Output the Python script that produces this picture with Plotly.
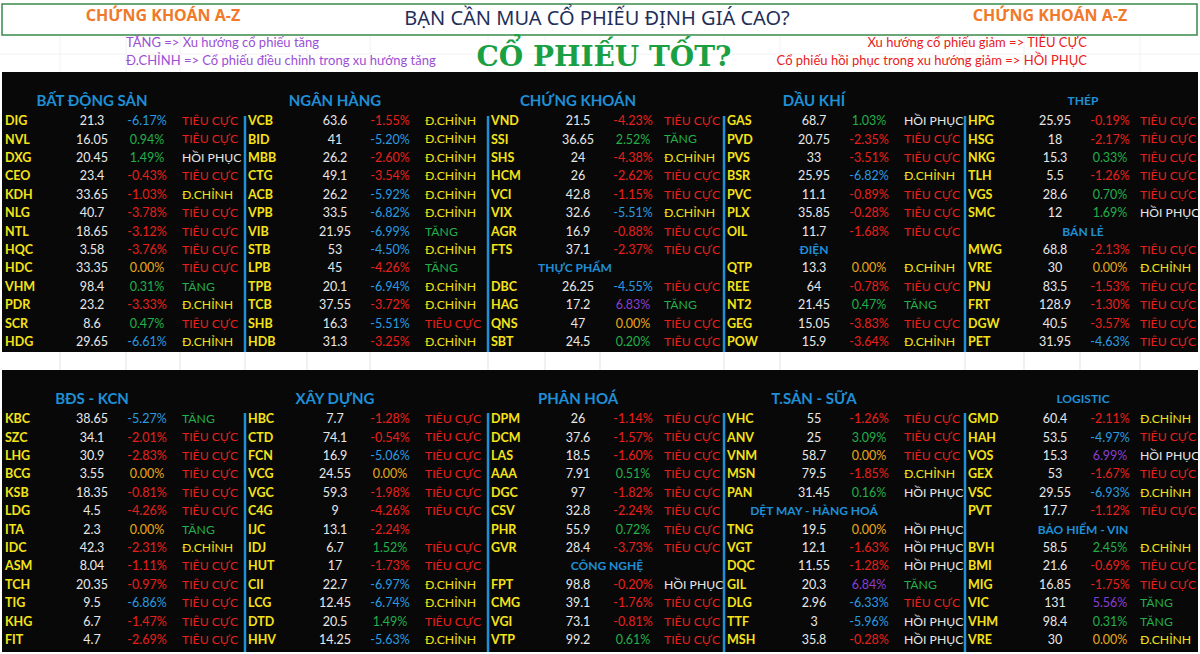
import plotly.graph_objects as go

# status codes: TC = TIÊU CỰC, DC = Đ.CHỈNH, T = TĂNG, HP = HỒI PHỤC
STATUS_TEXT = {"TC": "TIÊU CỰC", "DC": "Đ.CHỈNH", "T": "TĂNG", "HP": "HỒI PHỤC", "": ""}
STATUS_COLOR = {"TC": "#e8201c", "DC": "#f2e21a", "T": "#22b04a", "HP": "#e6e6e6", "": "#000"}

# ---- top block ----
bds_title = "BẤT ĐỘNG SẢN"
bds_tickers = ["DIG", "NVL", "DXG", "CEO", "KDH", "NLG", "NTL", "HQC", "HDC", "VHM", "PDR", "SCR", "HDG"]
bds_prices = [21.3, 16.05, 20.45, 23.4, 33.65, 40.7, 18.65, 3.58, 33.35, 98.4, 23.2, 8.6, 29.65]
bds_pct = [-6.17, 0.94, 1.49, -0.43, -1.03, -3.78, -3.12, -3.76, 0.00, 0.31, -3.33, 0.47, -6.61]
bds_status = ["TC", "TC", "HP", "TC", "DC", "TC", "TC", "TC", "TC", "T", "DC", "TC", "DC"]

nh_title = "NGÂN HÀNG"
nh_tickers = ["VCB", "BID", "MBB", "CTG", "ACB", "VPB", "VIB", "STB", "LPB", "TPB", "TCB", "SHB", "HDB"]
nh_prices = [63.6, 41, 26.2, 49.1, 26.2, 33.5, 21.95, 53, 45, 20.1, 37.55, 16.3, 31.3]
nh_pct = [-1.55, -5.20, -2.60, -3.54, -5.92, -6.82, -6.99, -4.50, -4.26, -6.94, -3.72, -5.51, -3.25]
nh_status = ["DC", "DC", "DC", "DC", "DC", "DC", "T", "DC", "T", "DC", "DC", "TC", "DC"]

ck_title = "CHỨNG KHOÁN"
ck_tickers = ["VND", "SSI", "SHS", "HCM", "VCI", "VIX", "AGR", "FTS", "THỰC PHẨM", "DBC", "HAG", "QNS", "SBT"]
ck_prices = [21.5, 36.65, 24, 26, 42.8, 32.6, 16.9, 37.1, None, 26.25, 17.2, 47, 24.5]
ck_pct = [-4.23, 2.52, -4.38, -2.62, -1.15, -5.51, -0.88, -2.37, None, -4.55, 6.83, 0.00, 0.20]
ck_status = ["TC", "T", "DC", "TC", "TC", "DC", "TC", "TC", "", "TC", "T", "TC", "TC"]

dk_title = "DẦU KHÍ"
dk_tickers = ["GAS", "PVD", "PVS", "BSR", "PVC", "PLX", "OIL", "ĐIỆN", "QTP", "REE", "NT2", "GEG", "POW"]
dk_prices = [68.7, 20.75, 33, 25.95, 11.1, 35.85, 11.7, None, 13.3, 64, 21.45, 15.05, 15.9]
dk_pct = [1.03, -2.35, -3.51, -6.82, -0.89, -0.28, -1.68, None, 0.00, -0.78, 0.47, -3.83, -3.64]
dk_status = ["HP", "TC", "TC", "DC", "TC", "TC", "TC", "", "DC", "TC", "T", "TC", "DC"]

th_title = "THÉP"
th_tickers = ["HPG", "HSG", "NKG", "TLH", "VGS", "SMC", "BÁN LẺ", "MWG", "VRE", "PNJ", "FRT", "DGW", "PET"]
th_prices = [25.95, 18, 15.3, 5.5, 28.6, 12, None, 68.8, 30, 83.5, 128.9, 40.5, 31.95]
th_pct = [-0.19, -2.17, 0.33, -1.26, 0.70, 1.69, None, -2.13, 0.00, -1.53, -1.30, -3.57, -4.63]
th_status = ["TC", "TC", "TC", "TC", "TC", "HP", "", "TC", "DC", "TC", "TC", "TC", "TC"]

# ---- bottom block ----
kcn_title = "BĐS - KCN"
kcn_tickers = ["KBC", "SZC", "LHG", "BCG", "KSB", "LDG", "ITA", "IDC", "ASM", "TCH", "TIG", "KHG", "FIT"]
kcn_prices = [38.65, 34.1, 30.9, 3.55, 18.35, 4.5, 2.3, 42.3, 8.04, 20.35, 9.5, 6.7, 4.7]
kcn_pct = [-5.27, -2.01, -2.83, 0.00, -0.81, -4.26, 0.00, -2.31, -1.11, -0.97, -6.86, -1.47, -2.69]
kcn_status = ["T", "TC", "TC", "TC", "TC", "TC", "T", "DC", "TC", "TC", "TC", "TC", "TC"]

xd_title = "XÂY DỰNG"
xd_tickers = ["HBC", "CTD", "FCN", "VCG", "VGC", "C4G", "IJC", "IDJ", "HUT", "CII", "LCG", "DTD", "HHV"]
xd_prices = [7.7, 74.1, 16.9, 24.55, 59.3, 9, 13.1, 6.7, 17, 22.7, 12.45, 20.5, 14.25]
xd_pct = [-1.28, -0.54, -5.06, 0.00, -1.98, -4.26, -2.24, 1.52, -1.73, -6.97, -6.74, 1.49, -5.63]
xd_status = ["TC", "TC", "TC", "TC", "TC", "TC", "", "TC", "TC", "DC", "DC", "TC", "DC"]

ph_title = "PHÂN HOÁ"
ph_tickers = ["DPM", "DCM", "LAS", "AAA", "DGC", "CSV", "PHR", "GVR", "CÔNG NGHỆ", "FPT", "CMG", "VGI", "VTP"]
ph_prices = [26, 37.6, 18.5, 7.91, 97, 32.8, 55.9, 28.4, None, 98.8, 39.1, 73.1, 99.2]
ph_pct = [-1.14, -1.57, -1.60, 0.51, -1.82, -2.24, 0.72, -3.73, None, -0.20, -1.76, -0.81, 0.61]
ph_status = ["TC", "TC", "TC", "TC", "TC", "TC", "TC", "TC", "", "HP", "TC", "TC", "TC"]

ts_title = "T.SẢN - SỮA"
ts_tickers = ["VHC", "ANV", "VNM", "MSN", "PAN", "DỆT MAY - HÀNG HOÁ", "TNG", "VGT", "DQC", "GIL", "DLG", "TTF", "MSH"]
ts_prices = [55, 25, 58.7, 79.5, 31.45, None, 19.5, 12.1, 11.55, 20.3, 2.96, 3, 35.8]
ts_pct = [-1.26, 3.09, 0.00, -1.85, 0.16, None, 0.00, -1.63, -1.28, 6.84, -6.33, -5.96, -0.28]
ts_status = ["TC", "TC", "TC", "DC", "HP", "", "HP", "HP", "HP", "T", "TC", "HP", "HP"]

lg_title = "LOGISTIC"
lg_tickers = ["GMD", "HAH", "VOS", "GEX", "VSC", "PVT", "BẢO HIỂM - VIN", "BVH", "BMI", "MIG", "VIC", "VHM", "VRE"]
lg_prices = [60.4, 53.5, 15.3, 53, 29.55, 17.7, None, 58.5, 21.6, 16.85, 131, 98.4, 30]
lg_pct = [-2.11, -4.97, 6.99, -1.67, -6.93, -1.12, None, 2.45, -0.69, -1.75, 5.56, 0.31, 0.00]
lg_status = ["DC", "TC", "HP", "TC", "DC", "TC", "", "DC", "TC", "TC", "T", "T", "DC"]

FONT = "Lato"
BLUE = "#1f8fd6"


def pct_color(p):
    if p == 0:
        return "#e8a81c"
    if p >= 5.5:
        return "#8a3fd0"
    if p > 0:
        return "#22b04a"
    if p <= -4.5:
        return "#2a9be0"
    return "#e8201c"


def add_group(fig, x0, y0, title, tickers, prices, pcts, statuses,
              title_dx=90, title_size=15, inline_dx=90, status_dx=180):
    step = 18.42
    ys = [y0 + 20 + i * step for i in range(len(tickers))]
    rows = [i for i, p in enumerate(prices) if p is not None]
    heads = [i for i, p in enumerate(prices) if p is None]
    fnt = dict(family=FONT, size=12.5)
    fig.add_trace(go.Scatter(
        x=[x0 + 3] * len(rows), y=[ys[i] for i in rows], mode="text",
        text=["<b>%s</b>" % tickers[i] for i in rows], textposition="middle right",
        textfont=dict(fnt, color="#f5e31a"), hoverinfo="skip"))
    fig.add_trace(go.Scatter(
        x=[x0 + 90] * len(rows), y=[ys[i] for i in rows], mode="text",
        text=["%g" % prices[i] for i in rows], textposition="middle center",
        textfont=dict(fnt, color="#e8e8e8"), hoverinfo="skip"))
    fig.add_trace(go.Scatter(
        x=[x0 + 145] * len(rows), y=[ys[i] for i in rows], mode="text",
        text=["%.2f%%" % pcts[i] for i in rows], textposition="middle center",
        textfont=dict(fnt, color=[pct_color(pcts[i]) for i in rows]), hoverinfo="skip"))
    fig.add_trace(go.Scatter(
        x=[x0 + status_dx] * len(rows), y=[ys[i] for i in rows], mode="text",
        text=[STATUS_TEXT[statuses[i]] for i in rows], textposition="middle right",
        textfont=dict(family=FONT, size=12.2, color=[STATUS_COLOR[statuses[i]] for i in rows]),
        hoverinfo="skip"))
    if heads:
        fig.add_trace(go.Scatter(
            x=[x0 + inline_dx] * len(heads), y=[ys[i] for i in heads], mode="text",
            text=["<b>%s</b>" % tickers[i] for i in heads], textposition="middle center",
            textfont=dict(family=FONT, size=12, color=BLUE), hoverinfo="skip"))
    fig.add_trace(go.Scatter(
        x=[x0 + title_dx], y=[y0], mode="text", text=["<b>%s</b>" % title],
        textposition="middle center",
        textfont=dict(family=FONT, size=title_size, color=BLUE), hoverinfo="skip"))


fig = go.Figure()
shapes = [
    dict(type="rect", x0=2, x1=1198, y0=72, y1=352, fillcolor="#080808", line_width=0, layer="below"),
    dict(type="rect", x0=2, x1=1198, y0=370, y1=652, fillcolor="#080808", line_width=0, layer="below"),
    dict(type="rect", x0=2, x1=1197, y0=4, y1=35, line=dict(color="#3a8a4a", width=1.5), layer="below"),
]
for xs in [245, 488, 724, 965]:
    shapes.append(dict(type="line", x0=xs, x1=xs, y0=116, y1=352, line=dict(color=BLUE, width=2.5), layer="below"))
    shapes.append(dict(type="line", x0=xs, x1=xs, y0=413, y1=652, line=dict(color=BLUE, width=2.5), layer="below"))
for gx in [60, 126, 180, 245, 307, 370, 488, 545, 600, 724, 780, 965, 1024, 1080, 1140]:
    shapes.append(dict(type="line", x0=gx, x1=gx, y0=352, y1=370, line=dict(color="#e2e2e2", width=1), layer="below"))
    shapes.append(dict(type="line", x0=gx, x1=gx, y0=36, y1=72, line=dict(color="#f2f2f2", width=1), layer="below"))
shapes.append(dict(type="line", x0=0, x1=1200, y0=54, y1=54, line=dict(color="#f2f2f2", width=1), layer="below"))

add_group(fig, 2, 102, bds_title, bds_tickers, bds_prices, bds_pct, bds_status)
add_group(fig, 245, 102, nh_title, nh_tickers, nh_prices, nh_pct, nh_status)
add_group(fig, 488, 102, ck_title, ck_tickers, ck_prices, ck_pct, ck_status,
          inline_dx=87, status_dx=176)
add_group(fig, 724, 102, dk_title, dk_tickers, dk_prices, dk_pct, dk_status)
add_group(fig, 965, 102, th_title, th_tickers, th_prices, th_pct, th_status,
          title_dx=118, title_size=12, inline_dx=118, status_dx=175)
add_group(fig, 2, 400, kcn_title, kcn_tickers, kcn_prices, kcn_pct, kcn_status)
add_group(fig, 245, 400, xd_title, xd_tickers, xd_prices, xd_pct, xd_status)
add_group(fig, 488, 400, ph_title, ph_tickers, ph_prices, ph_pct, ph_status,
          inline_dx=119, status_dx=176)
add_group(fig, 724, 400, ts_title, ts_tickers, ts_prices, ts_pct, ts_status)
add_group(fig, 965, 400, lg_title, lg_tickers, lg_prices, lg_pct, lg_status,
          title_dx=118, title_size=12, inline_dx=118, status_dx=175)

# header texts
hdr = [
    (597, 20, "BẠN CẦN MUA CỔ PHIẾU ĐỊNH GIÁ CAO?", "middle center", "Noto Sans", 20, "#1f2f5a"),
    (163, 17, "<b>CHỨNG KHOÁN A-Z</b>", "middle center", "Noto Sans", 16, "#f07a2a"),
    (1050, 17, "<b>CHỨNG KHOÁN A-Z</b>", "middle center", "Noto Sans", 16, "#f07a2a"),
    (604, 59, "<b>CỔ PHIẾU TỐT?</b>", "middle center", "DejaVu Serif", 28, "#1aa043"),
    (126, 44, "TĂNG => Xu hướng cổ phiếu tăng", "middle right", FONT, 13, "#9b4fd6"),
    (126, 62, "Đ.CHỈNH => Cổ phiếu điều chỉnh trong xu hướng tăng", "middle right", FONT, 13, "#9b4fd6"),
    (1087, 44, "Xu hướng cổ phiếu giảm => TIÊU CỰC", "middle left", FONT, 13, "#e8201c"),
    (1087, 62, "Cổ phiếu hồi phục trong xu hướng giảm => HỒI PHỤC", "middle left", FONT, 13, "#e8201c"),
]
for x, y, t, pos, fam, sz, col in hdr:
    fig.add_trace(go.Scatter(x=[x], y=[y], mode="text", text=[t], textposition=pos,
                             textfont=dict(family=fam, size=sz, color=col), hoverinfo="skip"))

fig.update_layout(
    width=1200, height=654, margin=dict(l=0, r=0, t=0, b=0),
    paper_bgcolor="white", plot_bgcolor="white", showlegend=False,
    shapes=shapes,
    xaxis=dict(range=[0, 1200], visible=False, fixedrange=True),
    yaxis=dict(range=[654, 0], visible=False, fixedrange=True),
)
# drop the default 8px page margin so the figure sits at the window corner
fig.write_html("out.html", config={"displayModeBar": False},
               post_script="document.body.style.margin='0';")
